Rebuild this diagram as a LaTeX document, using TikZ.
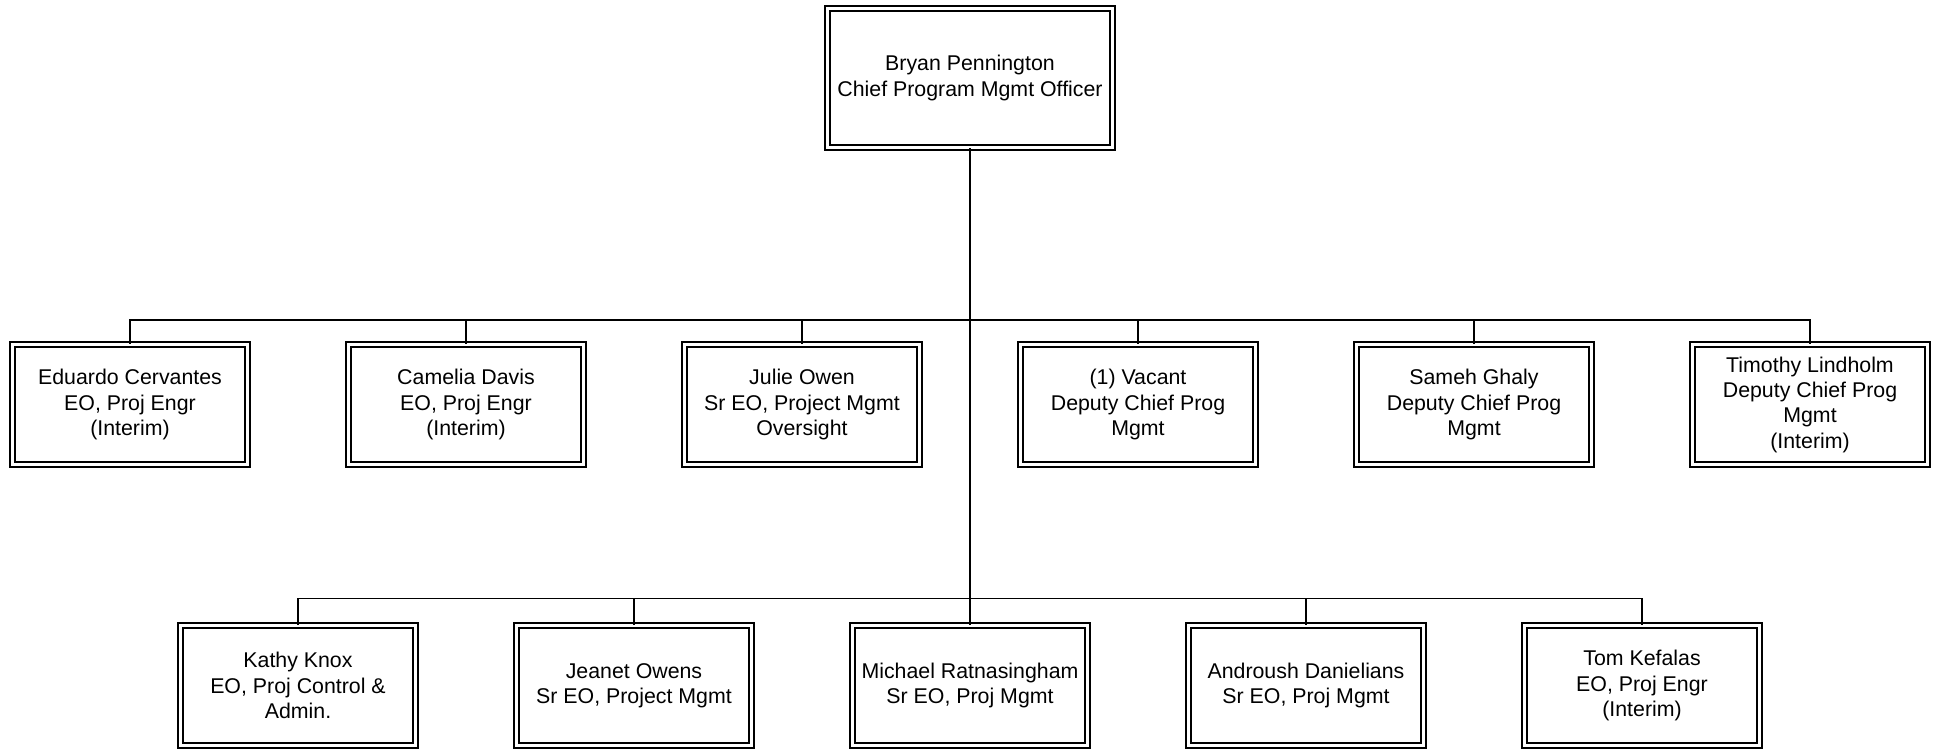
\documentclass[tikz,border=0pt]{standalone}
\usepackage{fontspec}
\setmainfont{Liberation Sans}
\begin{document}
\begin{tikzpicture}[x=0.75pt,y=-0.75pt,
  box/.style={draw=black, double, double distance=2.8pt, line width=1pt, fill=white,
    minimum width=176.25pt, minimum height=90pt, inner sep=0pt, align=center,
    font=\fontsize{16}{19}\selectfont},
  topbox/.style={box, minimum width=213.75pt, minimum height=104.25pt},
  link/.style={draw=black, line width=1pt}]
\useasboundingbox (0,0) rectangle (1939,749);
\node[topbox] (top) at (970,78) {Bryan Pennington\\Chief Program Mgmt Officer};
\node[box] (m1) at (130,404.5) {Eduardo Cervantes\\EO, Proj Engr\\(Interim)};
\node[box] (m2) at (466,404.5) {Camelia Davis\\EO, Proj Engr\\(Interim)};
\node[box] (m3) at (802,404.5) {Julie Owen\\Sr EO, Project Mgmt\\Oversight};
\node[box] (m4) at (1138,404.5) {(1) Vacant\\Deputy Chief Prog\\Mgmt};
\node[box] (m5) at (1474,404.5) {Sameh Ghaly\\Deputy Chief Prog\\Mgmt};
\node[box] (m6) at (1810,404.5) {Timothy Lindholm\\Deputy Chief Prog\\Mgmt\\(Interim)};
\node[box] (b1) at (298,685.5) {Kathy Knox\\EO, Proj Control \&\\Admin.};
\node[box] (b2) at (634,685.5) {Jeanet Owens\\Sr EO, Project Mgmt};
\node[box] (b3) at (970,685.5) {Michael Ratnasingham\\Sr EO, Proj Mgmt};
\node[box] (b4) at (1306,685.5) {Androush Danielians\\Sr EO, Proj Mgmt};
\node[box] (b5) at (1642,685.5) {Tom Kefalas\\EO, Proj Engr\\(Interim)};
\coordinate (hm) at (970,320);
\coordinate (hb) at (970,598.5);
\draw[link] (top.south) -- (b3.north);
\draw[link] (m1.north) |- (hm) -| (m6.north);
\foreach \n in {m2,m3,m4,m5} \draw[link] (\n.north) -- (\n.north |- hm);
\draw[link] (b1.north) |- (hb) -| (b5.north);
\foreach \n in {b2,b4} \draw[link] (\n.north) -- (\n.north |- hb);
\end{tikzpicture}
\end{document}
